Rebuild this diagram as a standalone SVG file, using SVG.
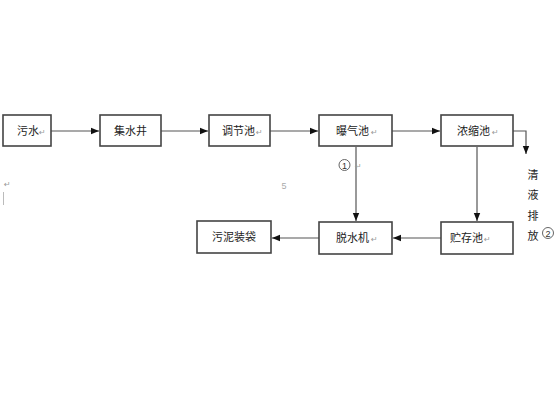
<svg xmlns="http://www.w3.org/2000/svg" width="560" height="420" viewBox="0 0 560 420">
<defs>
<marker id="ah" viewBox="0 0 10 10" refX="10" refY="5" markerWidth="8" markerHeight="8" orient="auto" markerUnits="userSpaceOnUse">
<path d="M0,1 L10,5 L0,9 Z" fill="#111"/>
</marker>
<style>
.box{fill:#fff;stroke:#444;stroke-width:1.6}
.t{font-family:"Noto Sans CJK SC","Liberation Sans",sans-serif;font-size:11px;fill:#222}
.m{font-family:"DejaVu Sans",sans-serif;font-size:8px;fill:#999}
.c{fill:none;stroke:#555;stroke-width:1.2}
</style>
</defs>
<rect width="560" height="420" fill="#fff"/>
<g id="connectors">
<line class="c" x1="51" y1="131" x2="99" y2="131" marker-end="url(#ah)"/>
<line class="c" x1="161" y1="131" x2="208" y2="131" marker-end="url(#ah)"/>
<line class="c" x1="270" y1="131" x2="318" y2="131" marker-end="url(#ah)"/>
<line class="c" x1="392" y1="131" x2="440" y2="131" marker-end="url(#ah)"/>
<polyline class="c" points="513,131 526,131 526,154" marker-end="url(#ah)"/>
<line class="c" x1="356" y1="147" x2="356" y2="221" marker-end="url(#ah)"/>
<line class="c" x1="477" y1="147" x2="477" y2="221" marker-end="url(#ah)"/>
<line class="c" x1="441" y1="238" x2="393" y2="238" marker-end="url(#ah)"/>
<line class="c" x1="319" y1="238" x2="272" y2="238" marker-end="url(#ah)"/>
</g>
<g id="n1"><rect class="box" x="3" y="115" width="48" height="31"/><text class="t" x="17" y="135">污水</text><text class="m" x="39" y="135">↵</text></g>
<g id="n2"><rect class="box" x="100" y="115" width="61" height="31"/><text class="t" x="130.5" y="135" text-anchor="middle">集水井</text></g>
<g id="n3"><rect class="box" x="209" y="115" width="61" height="31"/><text class="t" x="222" y="135">调节池</text><text class="m" x="256" y="135">↵</text></g>
<g id="n4"><rect class="box" x="319" y="115" width="73" height="31"/><text class="t" x="336" y="135">曝气池</text><text class="m" x="371" y="135">↵</text></g>
<g id="n5"><rect class="box" x="441" y="115" width="72" height="31"/><text class="t" x="457" y="135">浓缩池</text><text class="m" x="492" y="135">↵</text></g>
<g id="n6"><rect class="box" x="319" y="222" width="73" height="32"/><text class="t" x="336" y="242">脱水机</text><text class="m" x="371" y="242">↵</text></g>
<g id="n7"><rect class="box" x="441" y="222" width="72" height="32"/><text class="t" x="450" y="242">贮存池</text><text class="m" x="484" y="242">↵</text></g>
<g id="n8"><rect class="box" x="197" y="221" width="74" height="32"/><text class="t" x="234" y="241" text-anchor="middle">污泥装袋</text></g>
<g id="labels">
<circle cx="344.5" cy="165" r="5.5" fill="none" stroke="#555" stroke-width="0.9"/>
<text x="344.5" y="168.5" font-family="Liberation Sans,sans-serif" font-size="9" fill="#333" text-anchor="middle">1</text>
<text class="m" x="355" y="169">↵</text>
<text x="284" y="189" font-family="Liberation Sans,sans-serif" font-size="9" fill="#aaa" text-anchor="middle">5</text>
<text class="m" x="4" y="187">↵</text>
<line x1="3.5" y1="192" x2="3.5" y2="205" stroke="#bbb" stroke-width="1"/>
<text class="t" x="533" y="179" text-anchor="middle">清</text>
<text class="t" x="533" y="199" text-anchor="middle">液</text>
<text class="t" x="533" y="220" text-anchor="middle">排</text>
<text class="t" x="533" y="240" text-anchor="middle">放</text>
<circle cx="548" cy="233" r="5.5" fill="none" stroke="#555" stroke-width="0.9"/>
<text x="548" y="236.5" font-family="Liberation Sans,sans-serif" font-size="9" fill="#333" text-anchor="middle">2</text>
</g>
</svg>
